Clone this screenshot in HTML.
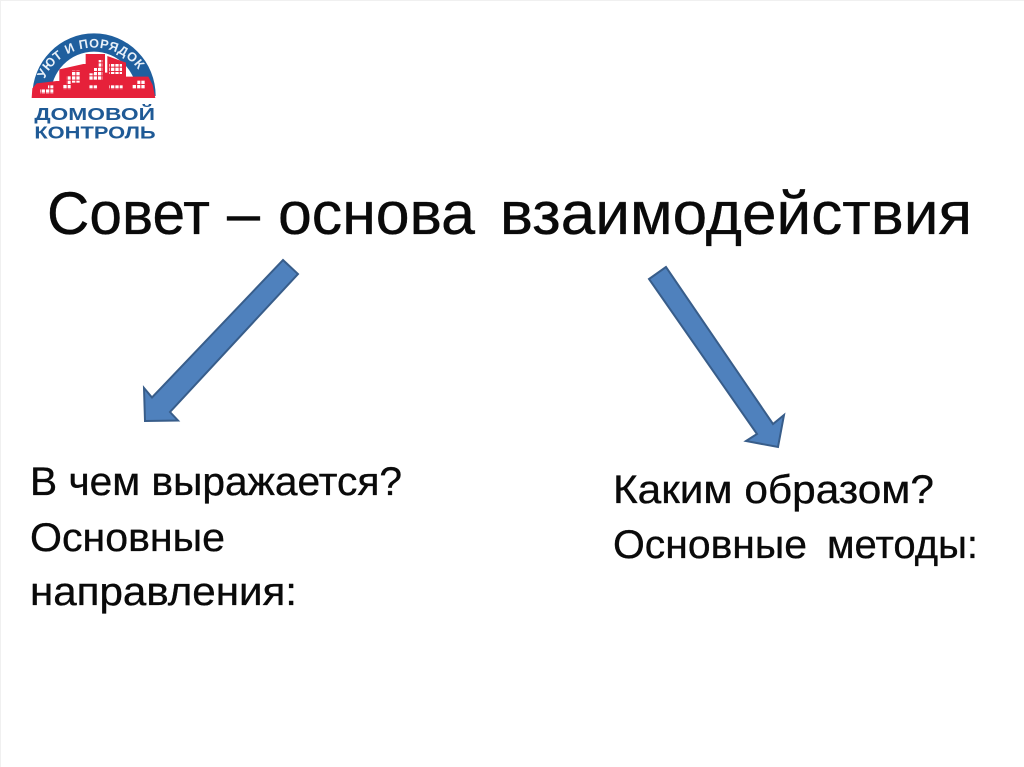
<!DOCTYPE html>
<html lang="ru">
<head>
<meta charset="utf-8">
<title>Совет – основа взаимодействия</title>
<style>
html,body{margin:0;padding:0;background:#fff;width:1024px;height:767px;overflow:hidden}
svg{display:block}
.t{font-family:"Liberation Sans","Noto Sans CJK SC",sans-serif;fill:#0a0a0a;stroke:#0a0a0a;stroke-width:.35}
.l{font-family:"Liberation Sans","Noto Sans CJK SC",sans-serif;font-weight:700}
</style>
</head>
<body>
<svg width="1024" height="767" viewBox="0 0 1024 767" xmlns="http://www.w3.org/2000/svg">
<defs>
  <pattern id="w" x="0" y="0" width="13" height="13" patternUnits="userSpaceOnUse"><rect width="10" height="10" fill="#fff"/></pattern>
  <path id="arc" d="M64 228 A158 145 0 0 1 380 228"/>
</defs>
<rect width="1024" height="767" fill="#fff"/>
<rect x="0" y="0" width="1024" height="1" fill="#f0f0f0"/>
<rect x="0" y="0" width="1" height="767" fill="#f0f0f0"/>

<!-- Logo -->
<g transform="translate(20,20) scale(0.33333)">
  <path d="M37 228 A185 188 0 0 1 407 228 L352 228 A130 133 0 0 0 92 228 Z" fill="#1f5f9e"/>
  <text class="l" font-size="38" fill="#e8f0f8" letter-spacing="1.5"><textPath href="#arc" startOffset="52">УЮТ И ПОРЯДОК</textPath></text>
  <path d="M35 234 L37 205 L50 190 L110 183 L118 183 L118 148 L190 132 L197 132 L197 102 L255 102 L255 158 L262 158 L262 108 L318 128 L318 170 L385 170 L398 195 L406 234 Z" fill="#e6213a"/>
  <g fill="url(#w)">
    <rect x="60" y="208" width="24" height="14"/><rect x="84" y="196" width="16" height="26"/>
    <rect x="128" y="192" width="24" height="16"/><rect x="140" y="168" width="12" height="24"/><rect x="156" y="152" width="24" height="36"/>
    <rect x="208" y="196" width="24" height="12"/>
    <rect x="222" y="144" width="26" height="36"/><rect x="208" y="160" width="14" height="20"/><rect x="236" y="120" width="12" height="24"/>
    <rect x="268" y="132" width="38" height="30"/><rect x="268" y="196" width="40" height="12"/>
    <rect x="336" y="192" width="16" height="14"/><rect x="352" y="180" width="24" height="26"/>
  </g>
  <text class="l" x="43" y="300" font-size="54" fill="#1f5a96" textLength="362" lengthAdjust="spacingAndGlyphs">ДОМОВОЙ</text>
  <text class="l" x="43" y="355" font-size="54" fill="#1f5a96" textLength="364" lengthAdjust="spacingAndGlyphs">КОНТРОЛЬ</text>
</g>

<!-- Title -->
<text class="t" x="47" y="234" font-size="60" textLength="163" lengthAdjust="spacingAndGlyphs">Совет</text>
<text class="t" x="227" y="234" font-size="60" textLength="33" lengthAdjust="spacingAndGlyphs">–</text>
<text class="t" x="278" y="234" font-size="60" textLength="197" lengthAdjust="spacingAndGlyphs">основа</text>
<text class="t" x="500" y="234" font-size="60" textLength="472" lengthAdjust="spacingAndGlyphs">взаимодействия</text>

<!-- Arrows -->
<polygon points="283,260 298,274 170,412 178,420.5 145,421 144,388 152,397.5" fill="#4f81bd" stroke="#385d8a" stroke-width="2"/>
<polygon points="666,267 649,279 757,434 746,441 778,447 784,415 773,424" fill="#4f81bd" stroke="#385d8a" stroke-width="2"/>

<!-- Left text -->
<text class="t" x="30" y="495" font-size="40" textLength="372" lengthAdjust="spacingAndGlyphs">В чем выражается?</text>
<text class="t" x="30" y="551" font-size="40" textLength="195" lengthAdjust="spacingAndGlyphs">Основные</text>
<text class="t" x="30" y="605" font-size="40" textLength="267" lengthAdjust="spacingAndGlyphs">направления:</text>

<!-- Right text -->
<text class="t" x="613" y="503" font-size="40" textLength="321" lengthAdjust="spacingAndGlyphs">Каким образом?</text>
<text class="t" x="613" y="558" font-size="40" textLength="194" lengthAdjust="spacingAndGlyphs">Основные</text>
<text class="t" x="827" y="558" font-size="40" textLength="151" lengthAdjust="spacingAndGlyphs">методы:</text>
</svg>
</body>
</html>
